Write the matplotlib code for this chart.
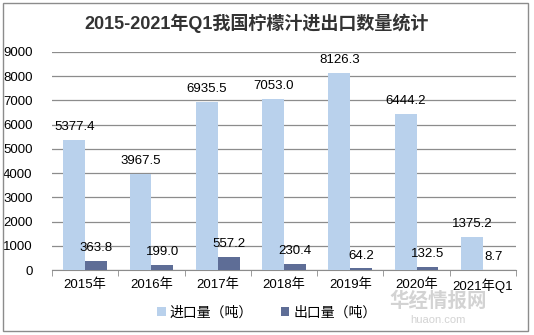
#!/usr/bin/env python
# -*- coding: utf-8 -*-

import matplotlib
matplotlib.use("Agg")
import matplotlib.pyplot as plt
import numpy as np
from matplotlib.patches import Rectangle

plt.rcParams['font.family'] = ['Liberation Sans', 'Noto Sans CJK SC', 'DejaVu Sans']

anios = ["2015年", "2016年", "2017年", "2018年", "2019年", "2020年", "2021年Q1"]
importacion = [5377.4, 3967.5, 6935.5, 7053.0, 8126.3, 6444.2, 1375.2]
exportacion = [363.8, 199.0, 557.2, 230.4, 64.2, 132.5, 8.7]

color_imp = "#B9D1EC"
color_exp = "#5E6D96"


def grafica():
    fig = plt.figure(figsize=(5.34, 3.35), dpi=100)
    ax = fig.add_axes([0.0974, 0.194, 0.869, 0.651])

    grupos = np.arange(len(anios))
    ancho = 0.33

    ax.bar(grupos - ancho / 2, importacion, ancho, color=color_imp, label="进口量（吨）", zorder=3)
    ax.bar(grupos + ancho / 2, exportacion, ancho, color=color_exp, label="出口量（吨）", zorder=3)

    for i in range(len(anios)):
        ax.annotate("%.1f" % importacion[i], (grupos[i] - ancho / 2, importacion[i]),
                    xytext=(0, 5), textcoords="offset points", ha="center", va="bottom", fontsize=9.5)
        ax.annotate("%.1f" % exportacion[i], (grupos[i] + ancho / 2, exportacion[i]),
                    xytext=(0, 5), textcoords="offset points", ha="center", va="bottom", fontsize=9.5)

    ax.set_xlim(-0.5, len(anios) - 0.5)
    ax.set_ylim(0, 9000)
    ax.set_yticks(np.arange(0, 9001, 1000))
    ax.yaxis.grid(True, color="#8C8C8C", linewidth=0.9, zorder=0)
    ax.tick_params(axis="y", length=0, labelsize=9.5, pad=14)

    ax.set_xticks(grupos)
    ax.set_xticklabels(anios, fontsize=9.5)
    ax.tick_params(axis="x", length=0, pad=6)
    ax.set_xticks(np.arange(-0.5, len(anios), 1), minor=True)
    ax.tick_params(axis="x", which="minor", length=4, color="#8C8C8C", direction="out")

    for lado in ["top", "right", "left"]:
        ax.spines[lado].set_visible(False)
    ax.spines["bottom"].set_color("#8C8C8C")

    fig.text(0.48, 0.93, "2015-2021年Q1我国柠檬汁进出口数量统计", ha="center", va="center",
             fontsize=13, fontweight="bold", color="#333333")

    fig.legend(loc="center", bbox_to_anchor=(0.5, 0.068), ncol=2, frameon=False, fontsize=10,
               handlelength=0.6, handleheight=0.6, handletextpad=0.3, columnspacing=2.0)

    # marca de agua
    fig.text(0.82, 0.10, "华经情报网", ha="center", va="center", fontsize=14,
             color="#C8C8C8", alpha=0.8, fontweight="bold")
    fig.text(0.82, 0.045, "huaon.com", ha="center", va="center", fontsize=8,
             color="#C8C8C8", alpha=0.8)

    fig.patches.append(Rectangle((0.006, 0.012), 0.983, 0.978, transform=fig.transFigure,
                                 fill=False, edgecolor="#8C8C8C", linewidth=1.0))

    fig.savefig("out.png", dpi=100)


if __name__ == "__main__":
    grafica()
